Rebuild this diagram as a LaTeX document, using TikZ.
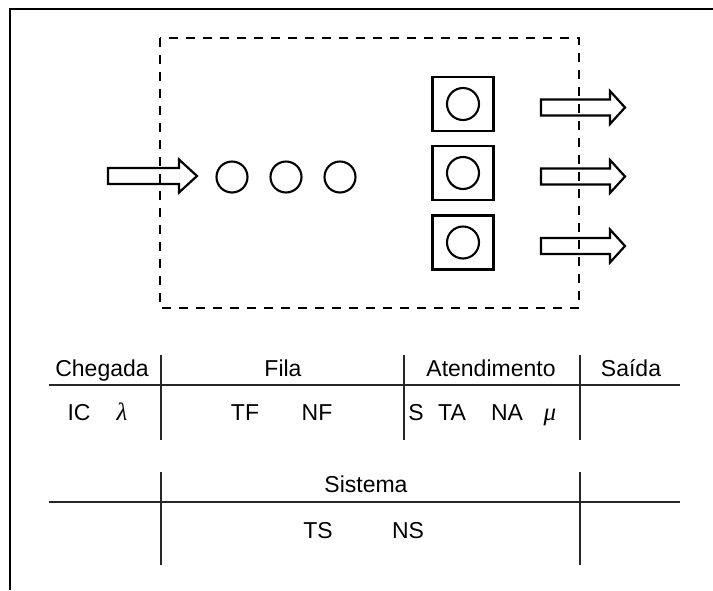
\documentclass[tikz,border=0pt]{standalone}
\usepackage{fontspec}
\setmainfont{Liberation Sans}
\newfontfamily\greekit{Liberation Serif}
\begin{document}
\begin{tikzpicture}[x=1pt,y=-1pt,
  outline/.style={line width=2.2pt,line join=miter},
  token/.style={draw,circle,line width=2.1pt,minimum size=31pt,inner sep=0pt},
  server/.style={draw,rectangle,line width=2.1pt,minimum width=61pt,minimum height=54pt,inner sep=0pt},
  rule/.style={line width=1.5pt,draw=black!85},
  lbl/.style={font=\fontsize{23}{27}\selectfont,inner sep=0pt,anchor=base},
  sym/.style={font=\fontsize{25}{29}\selectfont\greekit\itshape,inner sep=0pt,anchor=base},
  pics/blockarr/.style 2 args={code={
    \draw[outline] (0,-8) -- (#1,-8) -- (#1,-16.5) -- (#2,0) -- (#1,16.5) -- (#1,8) -- (0,8) -- cycle;}}
]
\useasboundingbox (0,0) rectangle (713,590);

% outer frame (top and left edges)
\draw[line width=2pt] (10,590) -- (10,9) -- (713,9);

% system boundary
\draw[line width=2.2pt,dash pattern=on 9pt off 8pt] (160,38) rectangle (579,308);

% arrivals
\pic at (108,176) {blockarr={71}{89}};

% queue
\node[token] (q1) at (232,177) {};
\node[token] (q2) at (286,177) {};
\node[token] (q3) at (340,177) {};

% servers
\node[server] (s1) at (463,104) {};
\node[server] (s2) at (463,173) {};
\node[server] (s3) at (463,242.5) {};
\node[token,minimum size=32pt] (c1) at (s1) {};
\node[token,minimum size=32pt] (c2) at (s2) {};
\node[token,minimum size=32pt] (c3) at (s3) {};

% departures
\pic at (541,107.5) {blockarr={69}{84}};
\pic at (541,176.5) {blockarr={69}{84}};
\pic at (541,246) {blockarr={69}{84}};

% first table
\draw[rule] (49,385) -- (680,385);
\draw[rule] (161,355) -- (161,440);
\draw[rule] (404,355) -- (404,440);
\draw[rule] (580,355) -- (580,440);
\node[lbl] (hch) at (102,376) {Chegada};
\node[lbl] (hfi) at (283,376) {Fila};
\node[lbl] (hat) at (491,376) {Atendimento};
\node[lbl] (hsa) at (631,376) {Saída};
\node[lbl] (tic) at (79,420) {IC};
\node[sym] (tla) at (122,420) {λ};
\node[lbl] (ttf) at (245,420) {TF};
\node[lbl] (tnf) at (317,420) {NF};
\node[lbl] (ts) at (416,420) {S};
\node[lbl] (tta) at (452,420) {TA};
\node[lbl] (tna) at (507,420) {NA};
\node[sym] (tmu) at (550,420) {μ};

% second table
\draw[rule] (49,502) -- (680,502);
\draw[rule] (161,472) -- (161,565);
\draw[rule] (580,472) -- (580,565);
\node[lbl] (hsi) at (366,492) {Sistema};
\node[lbl] (tts) at (318,538) {TS};
\node[lbl] (tns) at (408,538) {NS};
\end{tikzpicture}
\end{document}
